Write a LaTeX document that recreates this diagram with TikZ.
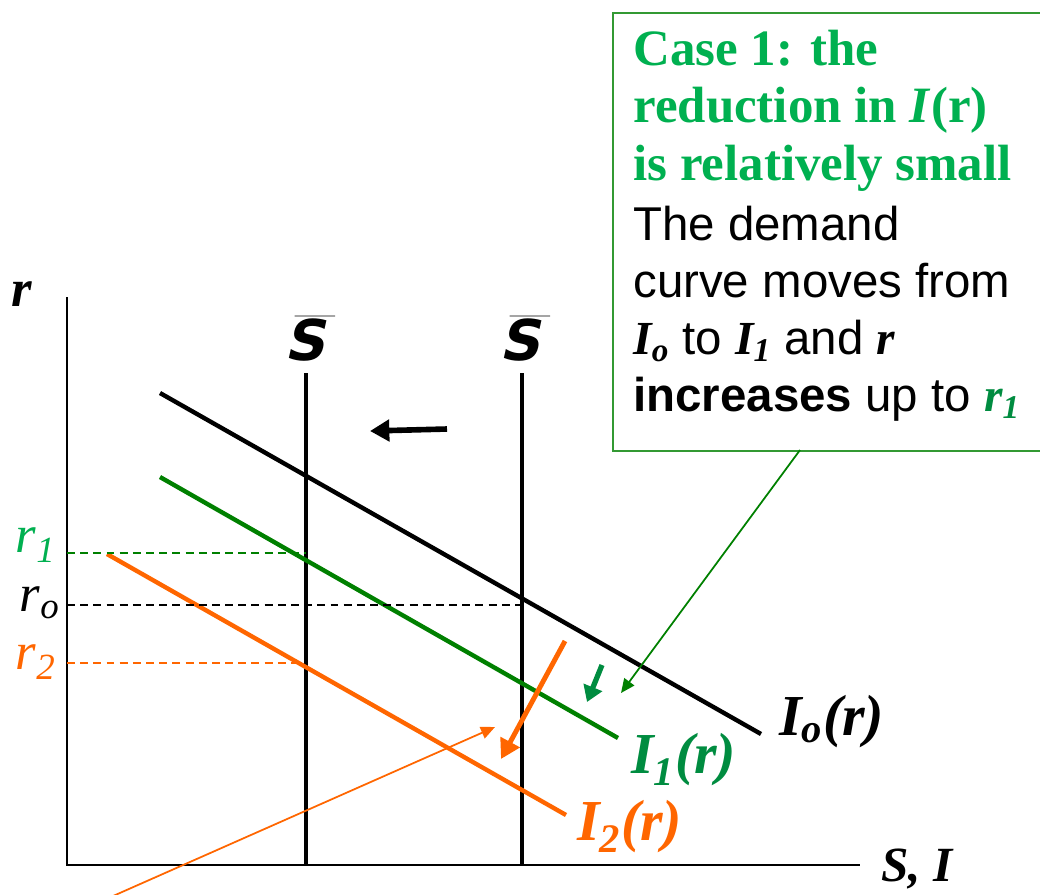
\documentclass[tikz,border=0pt]{standalone}
\usepackage{fontspec}
\setmainfont{Liberation Serif}
\setsansfont{Liberation Sans}
\newfontfamily\sbarfont{DejaVu Sans}
\usetikzlibrary{arrows.meta, positioning}
\definecolor{casegreen}{RGB}{0,176,80}
\definecolor{curvegreen}{RGB}{0,128,0}
\definecolor{labelgreen}{RGB}{0,140,64}
\definecolor{boxgreen}{RGB}{51,153,51}
\definecolor{shiftorange}{RGB}{255,102,0}
\newcommand{\ivar}[1]{{\rmfamily\bfseries\itshape #1}}

\begin{document}
\begin{tikzpicture}[x=0.02cm, y=-0.02cm,
    axisline/.style={line width=1.2pt},
    supply/.style={line width=2.8pt},
    demand/.style={line width=2.5pt},
    level/.style={line width=0.8pt, dash pattern=on 4.5pt off 3pt},
    fatarrow/.style={line width=2.8pt, -{Triangle[length=11pt,width=12pt]}},
    thinarrow/.style={line width=1pt, -{Triangle[length=8pt,width=7pt]}},
    curvename/.style={font=\fontsize{33}{36}\selectfont\bfseries\itshape, anchor=west, inner sep=0pt},
    ratename/.style={font=\fontsize{30}{32}\selectfont\itshape, anchor=east, inner sep=0pt},
    sbar/.style={font=\sbarfont\fontsize{32}{36}\selectfont\bfseries, xslant=0.22, inner sep=0pt},
    casebox/.style={draw=boxgreen, line width=1.1pt, fill=white, anchor=north west,
                    minimum width=8.9cm, minimum height=8.76cm},
    casetext/.style={anchor=north west, inner sep=0pt, align=left}
  ]
  \clip (0,0) rectangle (1040,894);

  % axes
  \coordinate (ytop) at (67,297);
  \coordinate (origin) at (67,865);
  \coordinate (xend) at (860,865);
  \draw[axisline] (ytop) -- (origin) -- (xend);
  \node[font=\fontsize{30}{32}\selectfont\bfseries\itshape] (rlab) at (22,294) {r};
  \node[font=\fontsize{28}{32}\selectfont\bfseries\itshape, anchor=west, inner sep=0pt] (silab) at (881,869) {S, I};

  % saving, before and after
  \coordinate (soldtop) at (522,373);
  \coordinate (soldbot) at (522,865);
  \coordinate (snewtop) at (306,373);
  \coordinate (snewbot) at (306,865);
  \draw[supply] (soldtop) -- (soldbot);
  \draw[supply] (snewtop) -- (snewbot);
  \node[sbar] (soldlab) at (525,338) {$\overline{\mbox{S}}$};
  \node[sbar] (snewlab) at (310,338) {$\overline{\mbox{S}}$};

  % investment curves
  \coordinate (izeroa) at (160,393);
  \coordinate (izerob) at (761,734);
  \coordinate (ionea) at (160,477);
  \coordinate (ioneb) at (618,738);
  \coordinate (itwoa) at (107,554);
  \coordinate (itwob) at (566,815);
  \draw[demand] (izeroa) -- (izerob);
  \draw[demand, curvegreen] (ionea) -- (ioneb);
  \draw[demand, shiftorange] (itwoa) -- (itwob);
  \node[curvename] (izerolab) at (779,722) {I\textsubscript{o}(r)};
  \node[curvename, labelgreen] (ionelab) at (631,760) {I\textsubscript{1}(r)};
  \node[curvename, shiftorange] (itwolab) at (577,827) {I\textsubscript{2}(r)};

  % interest rate levels
  \coordinate (rone) at (67,553);
  \coordinate (ronex) at (306,553);
  \coordinate (rzero) at (67,605);
  \coordinate (rzerox) at (522,605);
  \coordinate (rtwo) at (67,663);
  \coordinate (rtwox) at (304,663);
  \draw[level, curvegreen] (rone) -- (ronex);
  \draw[level] (rzero) -- (rzerox);
  \draw[level, shiftorange] (rtwo) -- (rtwox);
  \node[ratename, casegreen] (ronelab) at (56,545) {r\textsubscript{1}};
  \node[ratename] (rzerolab) at (60,603) {r\textsubscript{o}};
  \node[ratename, shiftorange] (rtwolab) at (56,662) {r\textsubscript{2}};

  % shifts
  \coordinate (lefta) at (447,429);
  \coordinate (leftb) at (370,431);
  \draw[fatarrow, line width=3.2pt] (lefta) -- (leftb);
  \coordinate (downa) at (602,665);
  \coordinate (downb) at (587,702);
  \draw[line width=3pt, labelgreen, -{Triangle[length=9pt,width=11pt]}] (downa) -- (downb);
  \coordinate (fara) at (565,641);
  \coordinate (farb) at (501,759);
  \draw[fatarrow, shiftorange] (fara) -- (farb);
  \coordinate (slanta) at (104,900);
  \coordinate (slantb) at (495,727);
  \draw[thinarrow, shiftorange] (slanta) -- (slantb);

  % case note
  \node[casebox] (cbox) at (612,12) {};
  \node[casetext, font=\fontsize{29}{32.6}\selectfont\bfseries, casegreen]
    (chead) at ([shift={(21,18)}]cbox.north west)
    {Case 1: the\\ reduction in \textit{I}(r)\\ is relatively small};
  \node[casetext, font=\sffamily\fontsize{27}{32.4}\selectfont]
    (cbody) at ([shift={(21,194)}]cbox.north west)
    {The demand\\ curve moves from\\
     \ivar{I\textsubscript{o}} to \ivar{I\textsubscript{1}} and \ivar{r}\\
     \textbf{increases} up to \textcolor{labelgreen}{\ivar{r\textsubscript{1}}}};
  \coordinate (cfoot) at (800,450);
  \coordinate (cpoint) at (621,693);
  \draw[thinarrow, curvegreen] (cfoot) -- (cpoint);
\end{tikzpicture}
\end{document}
